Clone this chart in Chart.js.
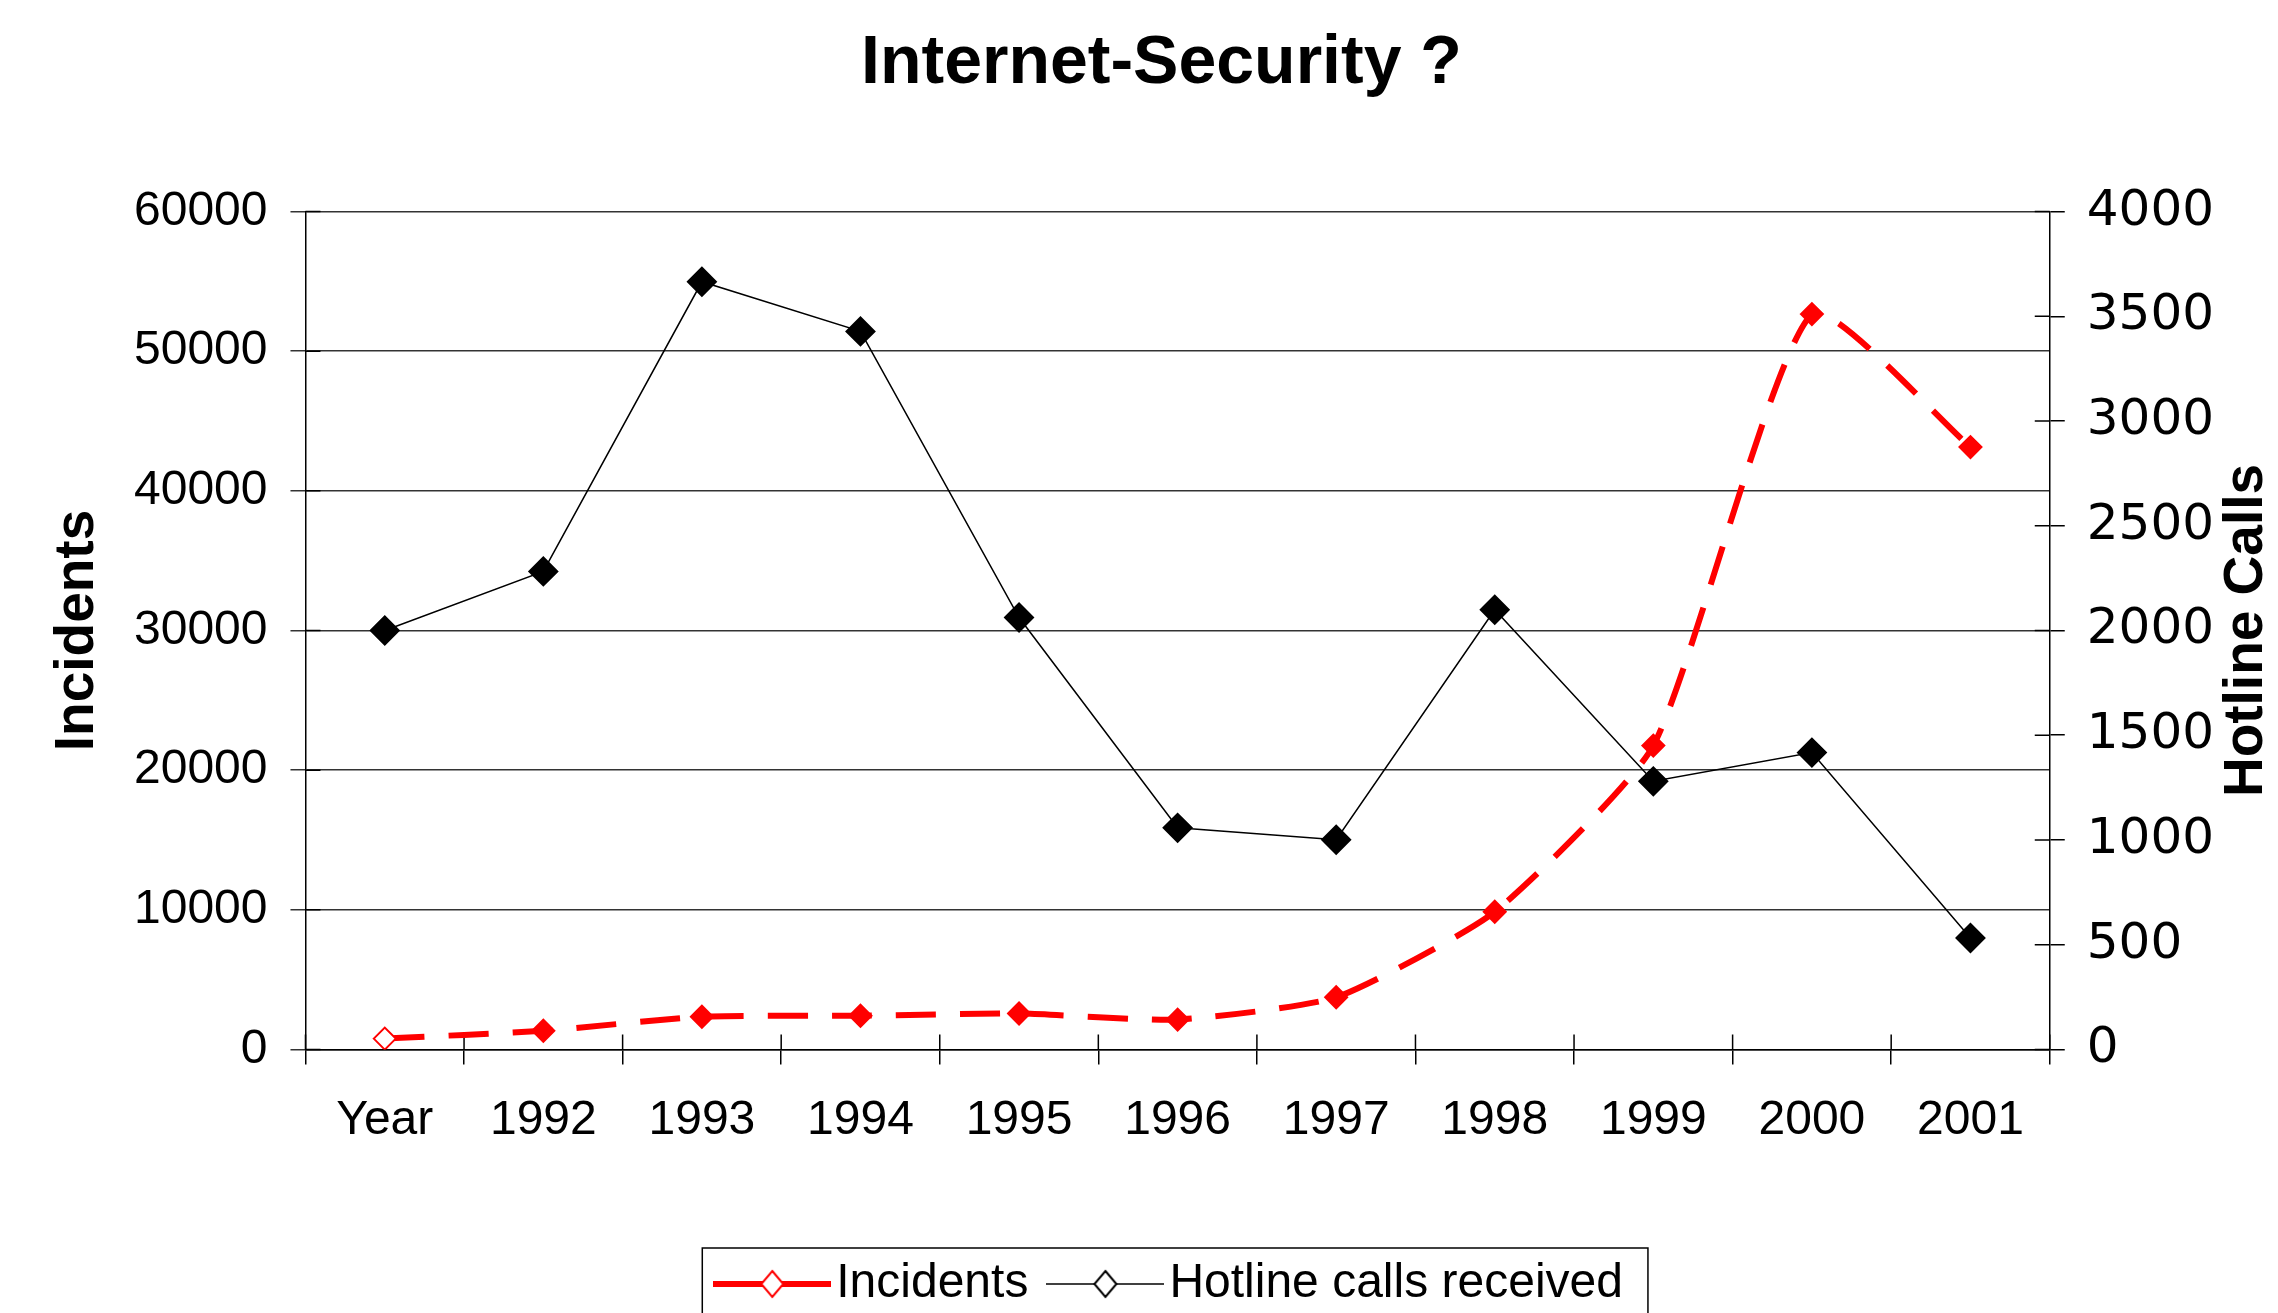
<!DOCTYPE html>
<html>
<head>
<meta charset="utf-8">
<title>Internet-Security ?</title>
<script src="https://cdn.jsdelivr.net/npm/chart.js@4.4.1/dist/chart.umd.min.js"></script>
<style>
  html, body { margin: 0; padding: 0; background: #fff; }
  #wrap { width: 2278px; height: 1313px; position: relative; }
</style>
</head>
<body>
<div id="wrap"><canvas id="chart"></canvas></div>
<script>
// values
const categories = ['Year', '1992', '1993', '1994', '1995', '1996', '1997', '1998', '1999', '2000', '2001'];
const incidents = [773, 1334, 2340, 2412, 2573, 2134, 3734, 9859, 21756, 52658, 43136];
const hotlineCalls = [2000, 2282, 3665, 3428, 2062, 1058, 1001, 2099, 1280, 1417, 532];
const incidentTicks = [0, 10000, 20000, 30000, 40000, 50000, 60000];
const callTicks = [0, 500, 1000, 1500, 2000, 2500, 3000, 3500, 4000];

const FONT = "'Liberation Sans', Arial, sans-serif";
const RED = '#ff0000';

// legend sample: line with a hollow diamond in the middle
function legendSample(color, width) {
  const c = document.createElement('canvas');
  c.width = 118; c.height = 34;
  const g = c.getContext('2d');
  g.strokeStyle = color;
  g.lineWidth = width;
  g.beginPath(); g.moveTo(0, 17); g.lineTo(118, 17); g.stroke();
  g.beginPath();
  g.moveTo(59, 4); g.lineTo(70, 17); g.lineTo(59, 30); g.lineTo(48, 17); g.closePath();
  g.fillStyle = '#fff'; g.fill();
  g.lineWidth = 2; g.stroke();
  return c;
}
const samples = [legendSample(RED, 6), legendSample('#000', 1.5)];

// Excel style tick marks cross the axis lines, draw the inner half here
const crossTicks = {
  id: 'crossTicks',
  beforeDatasetsDraw(chart) {
    const { ctx, chartArea: a, scales } = chart;
    ctx.save();
    ctx.strokeStyle = '#000';
    ctx.lineWidth = 1.5;
    ctx.beginPath();
    const n = scales.x.ticks.length;
    for (let i = 0; i <= n; i++) {
      const px = scales.x.getPixelForDecimal(i / n);
      ctx.moveTo(px, a.bottom); ctx.lineTo(px, a.bottom - 15);
    }
    scales.y.ticks.forEach((t, i) => {
      const py = scales.y.getPixelForTick(i);
      ctx.moveTo(a.left, py); ctx.lineTo(a.left + 15, py);
    });
    scales.y1.ticks.forEach((t, i) => {
      const py = scales.y1.getPixelForTick(i);
      ctx.moveTo(a.right, py); ctx.lineTo(a.right - 15, py);
    });
    ctx.stroke();
    ctx.restore();
  },
  afterDraw(chart) {
    const { ctx, chartArea: a, scales, legend } = chart;
    ctx.save();
    // right axis title reads bottom to top like the left one
    ctx.translate(scales.y1.right - 31, (a.top + a.bottom) / 2);
    ctx.rotate(-Math.PI / 2);
    ctx.font = 'bold 55px ' + FONT;
    ctx.fillStyle = '#000';
    ctx.textAlign = 'center';
    ctx.textBaseline = 'middle';
    ctx.fillText('Hotline Calls', 0, 0);
    ctx.restore();

    // frame round the legend
    const hb = legend.legendHitBoxes;
    if (hb && hb.length) {
      const last = hb[hb.length - 1];
      const left = hb[0].left - 30;
      const right = last.left + last.width + 25;
      const top = hb[0].top + hb[0].height / 2 - 36;
      ctx.save();
      ctx.strokeStyle = '#000';
      ctx.lineWidth = 1.5;
      ctx.strokeRect(left, top, right - left, chart.height + 20 - top);
      ctx.restore();
    }
  }
};

new Chart(document.getElementById('chart'), {
  type: 'line',
  data: {
    labels: categories,
    datasets: [{
      label: 'Incidents',
      data: incidents,
      yAxisID: 'y',
      borderColor: RED,
      borderWidth: 6,
      borderDash: [40, 24],
      tension: 0.18,
      pointStyle: 'rectRot',
      pointRadius: 11,
      pointBorderWidth: 2,
      pointBorderColor: RED,
      pointBackgroundColor: (c) => c.dataIndex === 0 ? '#fff' : RED,
      order: 1
    }, {
      label: 'Hotline calls received',
      data: hotlineCalls,
      yAxisID: 'y1',
      borderColor: '#000',
      borderWidth: 1.5,
      tension: 0,
      pointStyle: 'rectRot',
      pointRadius: 14,
      pointBorderWidth: 2,
      pointBorderColor: '#000',
      pointBackgroundColor: '#000',
      order: 0
    }]
  },
  options: {
    responsive: true,
    maintainAspectRatio: false,
    animation: false,
    layout: { padding: { left: 45, top: 0, right: 0, bottom: -5 } },
    plugins: {
      tooltip: { enabled: false },
      title: {
        display: true,
        text: 'Internet-Security ?',
        color: '#000',
        font: { family: FONT, size: 68, weight: 'bold' },
        padding: { top: 23, bottom: 107 }
      },
      legend: {
        position: 'bottom',
        fullSize: false,
        labels: {
          color: '#000',
          font: { family: FONT, size: 48 },
          usePointStyle: true,
          pointStyleWidth: 80,
          padding: 37,
          generateLabels: (chart) => chart.data.datasets.map((ds, i) => ({
            text: ds.label,
            pointStyle: samples[i],
            datasetIndex: i,
            lineWidth: 0,
            fontColor: '#000',
            hidden: false
          }))
        }
      }
    },
    scales: {
      x: {
        offset: true,
        grid: { display: true, drawOnChartArea: false, offset: true, tickLength: 15, color: '#000', lineWidth: 1.5 },
        border: { display: true, color: '#000', width: 1.5 },
        ticks: { color: '#000', font: { family: FONT, size: 48 }, padding: 28, maxRotation: 0, autoSkip: false },
        afterFit: (scale) => { scale.height += 45; }
      },
      y: {
        position: 'left',
        min: 0,
        max: 60000,
        afterBuildTicks: (scale) => { scale.ticks = incidentTicks.map(v => ({ value: v })); },
        grid: { color: '#333', lineWidth: 1.5, tickLength: 15 },
        border: { display: true, color: '#000', width: 1.5 },
        ticks: { color: '#000', font: { family: FONT, size: 48 }, padding: 23, callback: (v) => String(v) },
        title: {
          display: true,
          text: 'Incidents',
          color: '#000',
          font: { family: FONT, size: 55, weight: 'bold' },
          padding: { top: 0, bottom: 0 }
        }
      },
      y1: {
        position: 'right',
        min: 0,
        max: 4000,
        afterBuildTicks: (scale) => { scale.ticks = callTicks.map(v => ({ value: v })); },
        grid: { drawOnChartArea: false, color: '#000', lineWidth: 1.5, tickLength: 15 },
        border: { display: true, color: '#000', width: 1.5 },
        ticks: { color: '#000', font: { family: "'DejaVu Sans', sans-serif", size: 50 }, padding: 22, callback: (v) => String(v) },
        afterFit: (scale) => { scale.width += 42; }
      }
    }
  },
  plugins: [crossTicks]
});
</script>
</body>
</html>
